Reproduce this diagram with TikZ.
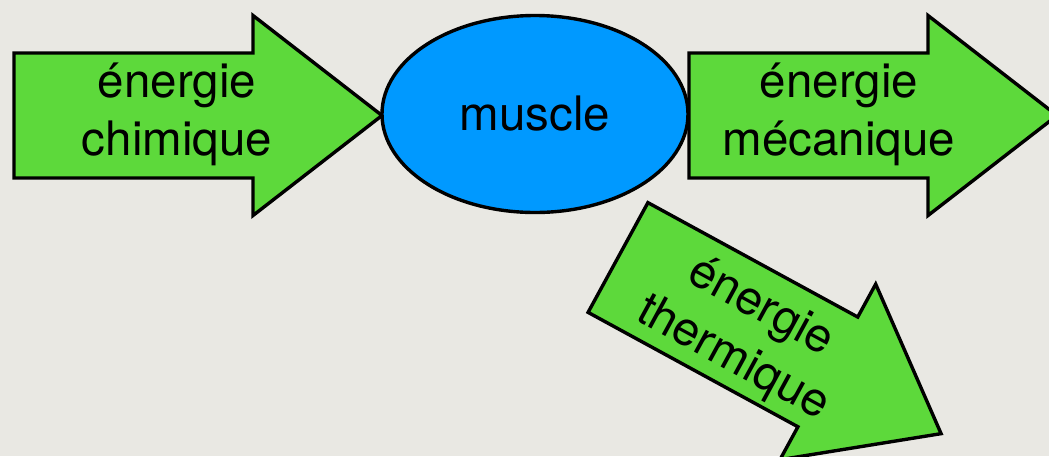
\documentclass[tikz,border=0pt]{standalone}
\usepackage{fontspec}
\setmainfont{TeX Gyre Heros}
\usetikzlibrary{shapes.geometric}
\definecolor{paper}{HTML}{E9E8E3}
\definecolor{leafgreen}{HTML}{5DD93B}
\definecolor{skyblue}{HTML}{0099FF}
\tikzset{
  outline/.style={draw=black, line width=1.7pt, line join=miter},
  flowtext/.style={font=\fontsize{23.75pt}{29pt}\selectfont, align=center, inner sep=0pt, text=black},
  % block arrow: shaft 239 x 125, head 129 long and 200 wide
  energyarrow/.pic={
    \path[outline, fill=leafgreen]
      (0,-62.5) -- (239,-62.5) -- (239,-100) -- (368,0)
      -- (239,100) -- (239,62.5) -- (0,62.5) -- cycle;
  }
}
\begin{document}
\begin{tikzpicture}[x=0.5pt, y=-0.5pt]
  \fill[paper] (0,0) rectangle (1049,456);
  \useasboundingbox (0,0) rectangle (1049,456);

  % incoming chemical energy
  \pic at (14,115.5) {energyarrow};
  \node[flowtext] (chem) at (177,114) {énergie\\chimique};

  % the muscle
  \node[ellipse, outline, fill=skyblue, minimum width=153pt, minimum height=98.5pt, inner sep=0pt] (muscle) at (535,114) {};
  \node[flowtext] (musclelabel) at (muscle.center) {muscle};

  % outgoing mechanical energy
  \pic at (689,115.5) {energyarrow};
  \node[flowtext] (meca) at (839,114) {énergie\\mécanique};

  % outgoing thermal energy
  \pic[rotate=-28.6] at (618,257.5) {energyarrow};
  \node[flowtext, rotate=-28.6] (therm) at (746.5,333.5) {énergie\\thermique};
\end{tikzpicture}
\end{document}
